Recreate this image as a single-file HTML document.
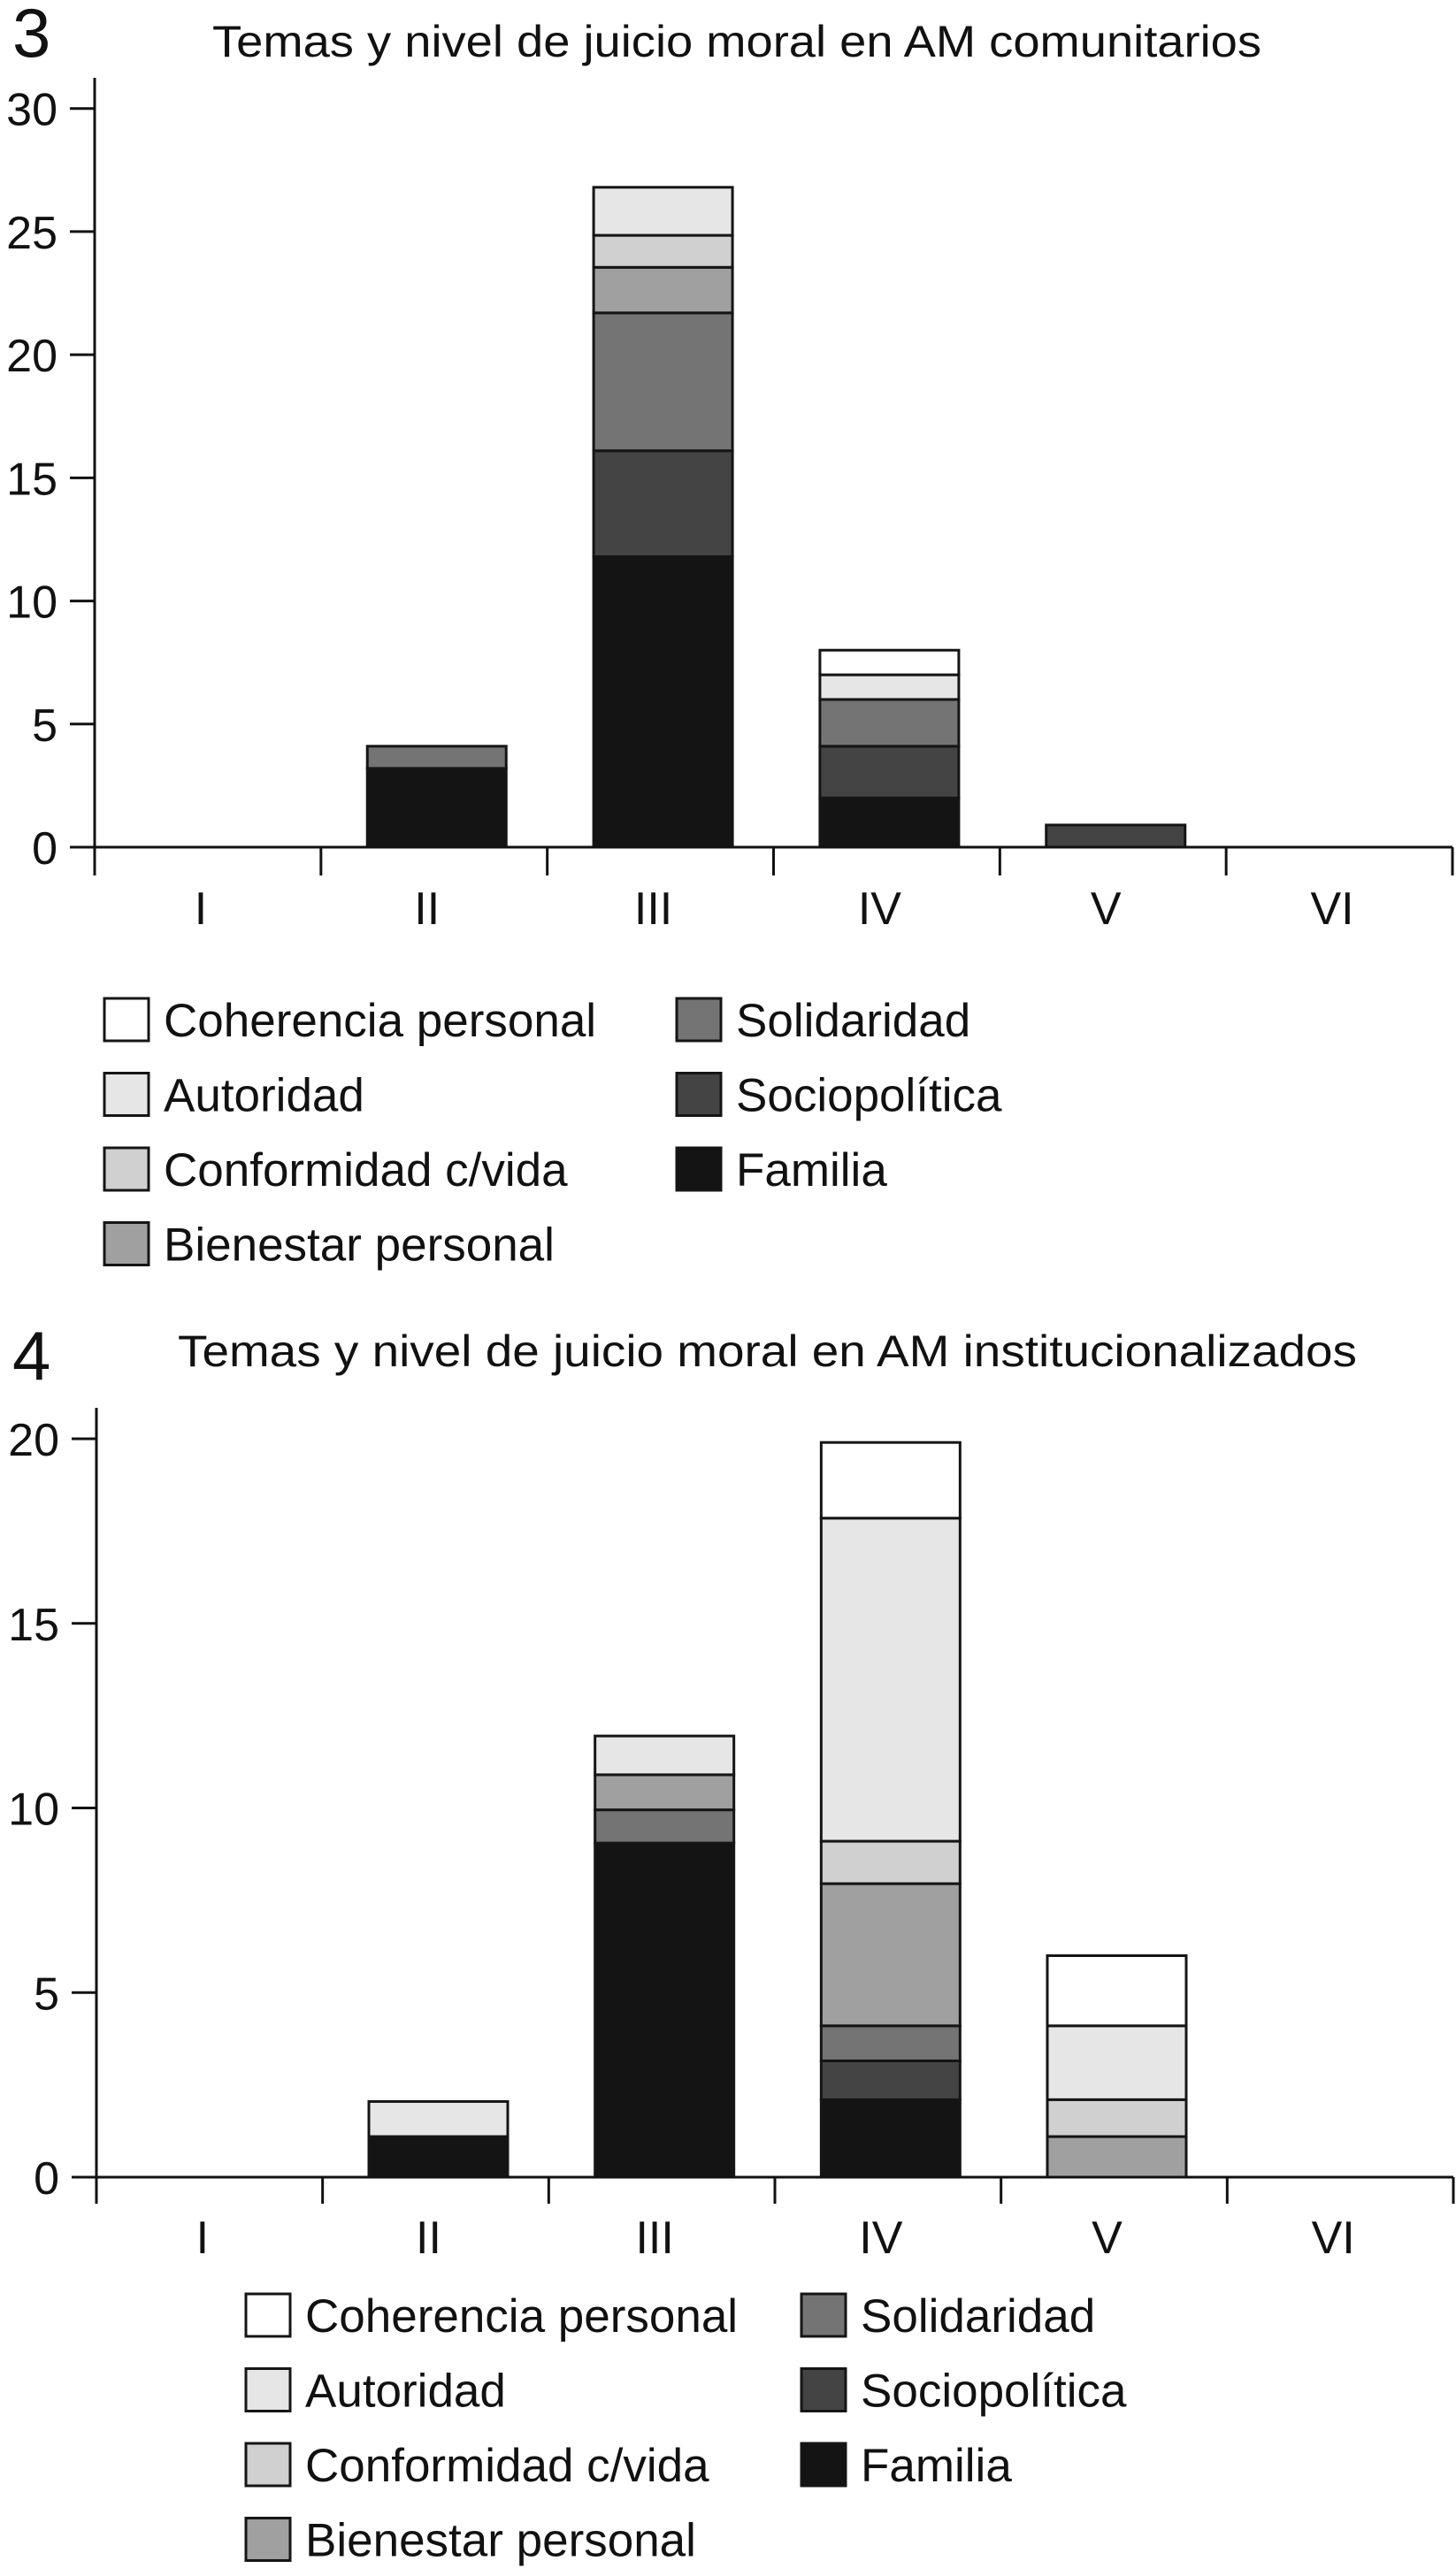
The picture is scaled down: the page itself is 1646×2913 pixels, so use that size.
<!DOCTYPE html>
<html><head><meta charset="utf-8"><style>
html,body{margin:0;padding:0;background:#fff;}
svg{display:block;font-family:"Liberation Sans",sans-serif;}
</style></head><body>
<svg id="fig" width="1646" height="2913" viewBox="0 0 1646 2913" xmlns="http://www.w3.org/2000/svg"></svg>
<script>
const categories = ["I","II","III","IV","V","VI"];
const seriesNames = ["Familia","Sociopolítica","Solidaridad","Bienestar personal","Conformidad c/vida","Autoridad","Coherencia personal"];
const seriesColors = ["#141414","#444444","#747474","#a0a0a0","#d0d0d0","#e6e6e6","#ffffff"];
// chart 3 values per series (per category I..VI)
const c3Familia      = [0, 3.2, 11.8, 2.0, 0, 0];
const c3Socio        = [0, 0,   4.3,  2.1, 0.9, 0];
const c3Solidaridad  = [0, 0.9, 5.6,  1.9, 0, 0];
const c3Bienestar    = [0, 0,   1.85, 0,   0, 0];
const c3Conformidad  = [0, 0,   1.3,  0,   0, 0];
const c3Autoridad    = [0, 0,   1.95, 1.0, 0, 0];
const c3Coherencia   = [0, 0,   0,    1.0, 0, 0];
const c3Ticks = [0,5,10,15,20,25,30];
// chart 4
const c4Familia      = [0, 1.1,  9.05, 2.1,  0, 0];
const c4Socio        = [0, 0,    0,    1.05, 0, 0];
const c4Solidaridad  = [0, 0,    0.9,  0.95, 0, 0];
const c4Bienestar    = [0, 0,    0.95, 3.85, 1.1, 0];
const c4Conformidad  = [0, 0,    0,    1.15, 1.0, 0];
const c4Autoridad    = [0, 0.95, 1.05, 8.75, 2.0, 0];
const c4Coherencia   = [0, 0,    0,    2.05, 1.9, 0];
const c4Ticks = [0,5,10,15,20];

const NS="http://www.w3.org/2000/svg";
const svg=document.getElementById('fig');
function mk(tag,attrs,parent,text){const e=document.createElementNS(NS,tag);for(const k in attrs)e.setAttribute(k,attrs[k]);if(text!==undefined)e.textContent=text;(parent||svg).appendChild(e);return e;}

function drawChart(cfg){
  const g=mk('g',{});
  
  
  const y=v=>cfg.zeroY-(v)*cfg.unit;
  const binW=(cfg.xEnd-cfg.x0)/categories.length;
  const xc=i=>cfg.x0+binW*(i+0.5);
  let t=mk('text',{x:cfg.numX,y:cfg.numY,'font-size':78,fill:'#111'},g,cfg.num);
  
  
  t=mk('text',{x:cfg.titleX,y:cfg.titleY,'font-size':50,fill:'#111',textLength:cfg.titleW,lengthAdjust:'spacingAndGlyphs'},g,cfg.title);
  
  
  // bars
  cfg.series.forEach((vals,si)=>{});
  categories.forEach((c,i)=>{
    let base=0;
    cfg.series.forEach((vals,si)=>{
      const v=vals[i]; if(!v) return;
      const r=mk('rect',{x:xc(i)+3-78.5,y:y(base+v),width:157,height:v*cfg.unit,fill:seriesColors[si],stroke:'#151515','stroke-width':3},g);
      
      
      base+=v;
    });
  });
  // axes
  let a=mk('line',{x1:cfg.x0,y1:cfg.axisTop,x2:cfg.x0,y2:cfg.tickBottom,stroke:'#111','stroke-width':3},g);
  
  
  a=mk('line',{x1:cfg.x0,y1:cfg.zeroY,x2:cfg.xEnd,y2:cfg.zeroY,stroke:'#111','stroke-width':3},g);
  
  
  for(let i=0;i<=categories.length;i++){
    const xx=cfg.x0+binW*i;
    mk('line',{x1:xx,y1:cfg.zeroY,x2:xx,y2:cfg.tickBottom,stroke:'#111','stroke-width':3},g);
  }
  categories.forEach((c,i)=>{
    const l=mk('text',{x:xc(i)-8,y:cfg.catY,'font-size':52,'text-anchor':'middle',fill:'#111'},g,c);
    
    
  });
  cfg.ticks.forEach(v=>{
    mk('line',{x1:cfg.x0-28,y1:y(v),x2:cfg.x0,y2:y(v),stroke:'#111','stroke-width':3},g);
    const l=mk('text',{x:cfg.x0-42,y:y(v)+19,'font-size':52,'text-anchor':'end',fill:'#111'},g,String(v));
    
    
  });
  // legend
  const order=[[6,0,0],[5,0,1],[4,0,2],[3,0,3],[2,1,0],[1,1,1],[0,1,2]];
  order.forEach(([si,col,row])=>{
    const bx=col?cfg.legX2:cfg.legX1, by=cfg.legY+row*cfg.legPitch;
    const e=mk('g',{},g);
    
    
    mk('rect',{x:bx,y:by,width:50,height:48,fill:seriesColors[si],stroke:'#151515','stroke-width':3},e);
    mk('text',{x:bx+67,y:by+43,'font-size':53,fill:'#111'},e,seriesNames[si]);
  });
}

drawChart({name:'chart-comunitarios',num:'3',numX:14,numY:64,title:'Temas y nivel de juicio moral en AM comunitarios',titleX:240,titleY:64,titleW:1186,
  x0:107,xEnd:1642,zeroY:958,unit:(958-122.7)/30,axisTop:88,tickBottom:990,catY:1045,ticks:c3Ticks,
  series:[c3Familia,c3Socio,c3Solidaridad,c3Bienestar,c3Conformidad,c3Autoridad,c3Coherencia],
  legX1:118,legX2:765,legY:1129,legPitch:84.5});
drawChart({name:'chart-institucionalizados',num:'4',numX:14,numY:1560,title:'Temas y nivel de juicio moral en AM institucionalizados',titleX:201,titleY:1545,titleW:1333,
  x0:109,xEnd:1643,zeroY:2462,unit:(2462-1627)/20,axisTop:1592,tickBottom:2492,catY:2548,ticks:c4Ticks,
  series:[c4Familia,c4Socio,c4Solidaridad,c4Bienestar,c4Conformidad,c4Autoridad,c4Coherencia],
  legX1:278,legX2:906,legY:2594,legPitch:84.5});
</script>
</body></html>
